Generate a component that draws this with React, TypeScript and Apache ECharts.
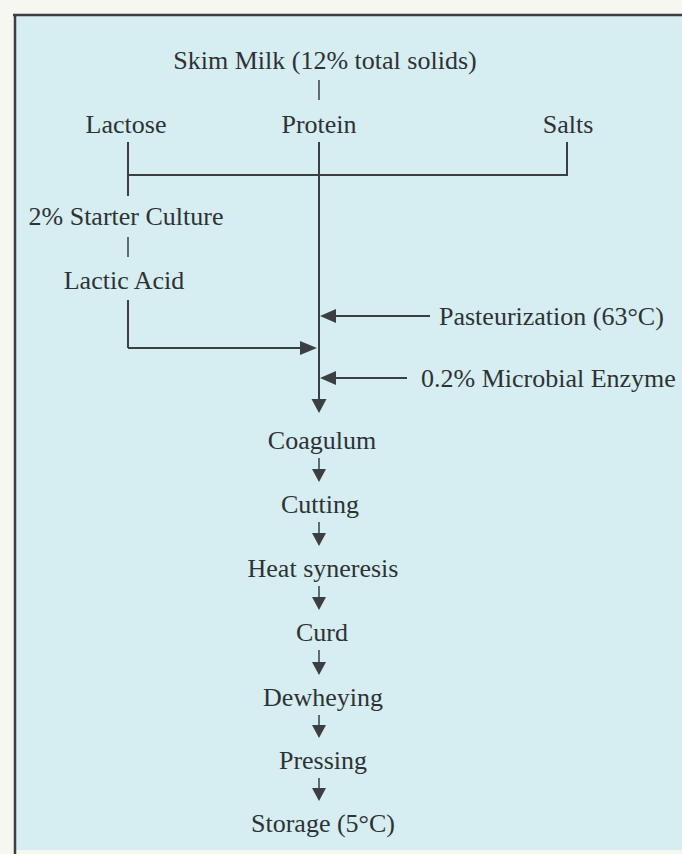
import React, { useEffect, useRef } from "react";
import * as echarts from "echarts";

// Flowchart labels
const title = "Skim Milk (12% total solids)";
const components = ["Lactose", "Protein", "Salts"];
const lactoseBranch = ["2% Starter Culture", "Lactic Acid"];
const additions = ["Pasteurization (63°C)", "0.2% Microbial Enzyme"];
const steps = ["Coagulum", "Cutting", "Heat syneresis", "Curd", "Dewheying", "Pressing", "Storage (5°C)"];

const W = 682;
const H = 854;
const LINE = "#3b3f42";
const TEXT = "#2e3234";
const FS = 26;

function txt(s: string, x: number, y: number, align: string = "center") {
  return {
    type: "text",
    x,
    y,
    style: {
      text: s,
      fill: TEXT,
      fontSize: FS,
      fontFamily: "Liberation Serif",
      align,
      verticalAlign: "middle",
    },
    z: 10,
  };
}
function ln(x1: number, y1: number, x2: number, y2: number, w = 2) {
  return { type: "line", shape: { x1, y1, x2, y2 }, style: { stroke: LINE, lineWidth: w }, z: 5 };
}
function tri(points: number[][]) {
  return { type: "polygon", shape: { points }, style: { fill: LINE }, z: 6 };
}

export default function App() {
  const ref = useRef<HTMLDivElement>(null);
  useEffect(() => {
    if (!ref.current) return;
    const chart = echarts.init(ref.current, null, { renderer: "svg", width: W, height: H });
    const els: any[] = [];
    // background & frame
    els.push({ type: "rect", shape: { x: 0, y: 0, width: W, height: H }, style: { fill: "#f7f7f1" }, z: 0 });
    els.push({ type: "rect", shape: { x: 15, y: 15, width: W - 15, height: H - 19 }, style: { fill: "#d6edf1" }, z: 1 });
    els.push(ln(13, 15, W, 15, 2.5));
    els.push(ln(15, 14, 15, H, 2.5));

    const cx = 319;
    const lx = 128;
    const sx = 567;
    els.push(txt(title, 325, 60));
    els.push(ln(cx, 80, cx, 100, 1.5));
    const compX = [126, 319, 568];
    components.forEach((c, i) => els.push(txt(c, compX[i], 124)));
    // lactose line
    els.push(ln(lx, 142, lx, 196));
    els.push(ln(lx, 175, sx, 175));
    els.push(ln(sx, 142, sx, 176));
    // protein main line
    els.push(ln(cx, 142, cx, 400));
    els.push(tri([[cx - 7.5, 399], [cx + 7.5, 399], [cx, 413]]));
    // starter culture branch
    els.push(txt(lactoseBranch[0], 126, 216));
    els.push(ln(lx, 237, lx, 257, 1.5));
    els.push(txt(lactoseBranch[1], 124, 280));
    els.push(ln(lx, 300, lx, 348));
    els.push(ln(lx, 348, 302, 348));
    els.push(tri([[300, 341], [300, 355], [317, 348]]));
    // additions
    const addY = [316, 378];
    const addLineEnd = [430, 407];
    const addTextX = [439, 421];
    additions.forEach((a, i) => {
      els.push(ln(333, addY[i], addLineEnd[i], addY[i]));
      els.push(tri([[cx + 1, addY[i]], [cx + 17, addY[i] - 7], [cx + 17, addY[i] + 7]]));
      els.push(txt(a, addTextX[i], addY[i], "left"));
    });
    // process chain
    const stepY = [440, 504, 568, 632, 697, 760, 823];
    const stepX = [322, 320, 323, 322, 323, 323, 323];
    steps.forEach((s, i) => {
      els.push(txt(s, stepX[i], stepY[i]));
      if (i < steps.length - 1) {
        const y1 = stepY[i] + 18;
        const y2 = stepY[i + 1] - 22;
        els.push(ln(cx, y1, cx, y2 - 12, 1.5));
        els.push(tri([[cx - 7, y2 - 13], [cx + 7, y2 - 13], [cx, y2]]));
      }
    });

    chart.setOption({
      animation: false,
      backgroundColor: "#f7f7f1",
      graphic: { elements: els },
    });
    return () => chart.dispose();
  }, []);
  return <div ref={ref} style={{ position: "fixed", left: 0, top: 0, width: W, height: H }} />;
}
